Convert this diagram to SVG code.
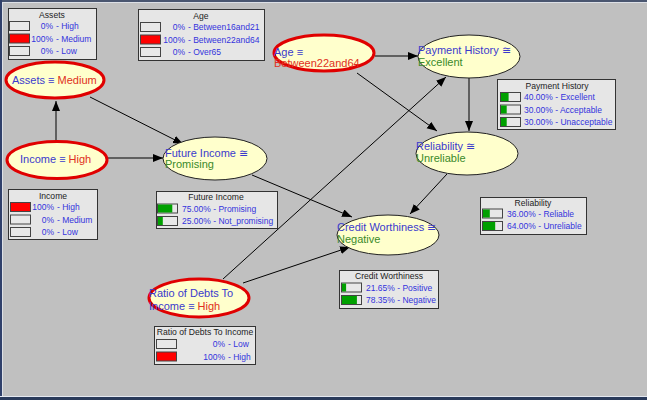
<svg xmlns="http://www.w3.org/2000/svg" width="647" height="400" viewBox="0 0 647 400">
<defs>
<marker id="arr" markerUnits="userSpaceOnUse" markerWidth="11" markerHeight="9" refX="10" refY="4" orient="auto">
<path d="M0,0 L10,4 L0,8 z" fill="#000"/>
</marker>
<style>
.bg{fill:#c0c0c0}
.box{fill:#e6e6e6;stroke:#333;stroke-width:1}
.bar{fill:#e8e8e8;stroke:#444;stroke-width:1}
.red{fill:#ff0000}
.grn{fill:#00a000}
.ttl{font-family:"Liberation Sans",Arial,sans-serif;font-size:8.6px;fill:#222;text-anchor:middle}
.row{font-family:"Liberation Sans",Arial,sans-serif;font-size:8.5px;fill:#3333dd}
.end{text-anchor:end}
.node{fill:#ffffcc;stroke:#222;stroke-width:1}
.ev{fill:#ffffcc;stroke:#e00000;stroke-width:3}
.lbl{font-family:"Liberation Sans",Arial,sans-serif;font-size:11px;fill:#3a3acc}
.st{fill:#3a8a2a}
.sr{fill:#e03020}
.edge{stroke:#000;stroke-width:1;fill:none;marker-end:url(#arr)}
</style>
</defs>
<rect class="bg" x="0" y="0" width="647" height="400"/>
<rect x="0" y="0" width="647" height="2" fill="#4a5670"/>
<rect x="0" y="2" width="647" height="1" fill="#dde0e6"/>
<rect x="0" y="0" width="2" height="400" fill="#30406a"/>
<rect x="2" y="2" width="1" height="395" fill="#dde0e6"/>
<rect x="0" y="396" width="647" height="1" fill="#e4e8f0"/>
<rect x="0" y="397" width="647" height="3" fill="#2a3a5a"/>

<g id="connectors">
<line class="edge" x1="56" y1="141" x2="56" y2="101"/>
<line class="edge" x1="90" y1="97" x2="183" y2="144"/>
<line class="edge" x1="108" y1="158" x2="163" y2="158"/>
<line class="edge" x1="375" y1="56" x2="418" y2="56"/>
<line class="edge" x1="357" y1="73" x2="437" y2="131"/>
<line class="edge" x1="469" y1="78" x2="469" y2="131"/>
<line class="edge" x1="223" y1="279" x2="446" y2="77"/>
<line class="edge" x1="252" y1="175" x2="352" y2="217"/>
<line class="edge" x1="447" y1="174" x2="410" y2="214"/>
<line class="edge" x1="243" y1="283" x2="350" y2="247"/>
</g>

<g id="assets">
<rect class="box" x="8.5" y="8.5" width="88" height="51"/>
<text class="ttl" x="52" y="18">Assets</text>
<rect class="bar" x="9.5" y="21.5" width="20" height="9"/>
<rect class="bar red" x="9.5" y="34" width="20" height="9"/>
<rect class="bar" x="9.5" y="46.5" width="20" height="9"/>
<text class="row end" x="53" y="29">0%</text><text class="row" x="56" y="29">- High</text>
<text class="row end" x="53" y="41.5">100%</text><text class="row" x="56" y="41.5">- Medium</text>
<text class="row end" x="53" y="54">0%</text><text class="row" x="56" y="54">- Low</text>
<ellipse class="ev" cx="55" cy="80" rx="49" ry="18"/>
<text class="lbl" x="12" y="84">Assets ≡ <tspan class="sr">Medium</tspan></text>
</g>

<g id="age">
<rect class="box" x="138.5" y="9.5" width="126" height="51"/>
<text class="ttl" x="201" y="19">Age</text>
<rect class="bar" x="140.5" y="22.5" width="20" height="9"/>
<rect class="bar red" x="140.5" y="35" width="20" height="9"/>
<rect class="bar" x="140.5" y="47.5" width="20" height="9"/>
<text class="row end" x="185" y="30">0%</text><text class="row" x="188" y="30">- Between16and21</text>
<text class="row end" x="185" y="42.5">100%</text><text class="row" x="188" y="42.5">- Between22and64</text>
<text class="row end" x="185" y="55">0%</text><text class="row" x="188" y="55">- Over65</text>
<ellipse class="ev" cx="324" cy="53" rx="50" ry="18"/>
<text class="lbl" x="274" y="56">Age ≡</text>
<text class="lbl sr" x="274" y="67">Between22and64</text>
</g>

<g id="payment-history">
<rect class="box" x="497.5" y="79.5" width="118" height="50"/>
<text class="ttl" x="557" y="88.5">Payment History</text>
<rect class="bar" x="500.5" y="92.5" width="20" height="9"/>
<rect class="grn" x="501" y="93" width="7.6" height="8"/>
<rect class="bar" x="500.5" y="105" width="20" height="9"/>
<rect class="grn" x="501" y="105.5" width="5.7" height="8"/>
<rect class="bar" x="500.5" y="117.5" width="20" height="9"/>
<rect class="grn" x="501" y="118" width="5.7" height="8"/>
<text class="row" x="524" y="100">40.00% - Excellent</text>
<text class="row" x="524" y="112.5">30.00% - Acceptable</text>
<text class="row" x="524" y="125">30.00% - Unacceptable</text>
<ellipse class="node" cx="469" cy="56.5" rx="51" ry="21.5"/>
<text class="lbl" x="418" y="54">Payment History ≅</text>
<text class="lbl st" x="418" y="66">Excellent</text>
</g>

<g id="income">
<rect class="box" x="8.5" y="189.5" width="89" height="50"/>
<text class="ttl" x="53" y="198.5">Income</text>
<rect class="bar red" x="10.5" y="202.5" width="20" height="9"/>
<rect class="bar" x="10.5" y="215" width="20" height="9"/>
<rect class="bar" x="10.5" y="227.5" width="20" height="9"/>
<text class="row end" x="54" y="210">100%</text><text class="row" x="57" y="210">- High</text>
<text class="row end" x="54" y="222.5">0%</text><text class="row" x="57" y="222.5">- Medium</text>
<text class="row end" x="54" y="235">0%</text><text class="row" x="57" y="235">- Low</text>
<ellipse class="ev" cx="57" cy="160" rx="50" ry="18.5"/>
<text class="lbl" x="20" y="163">Income ≡ <tspan class="sr">High</tspan></text>
</g>

<g id="future-income">
<rect class="box" x="156.5" y="191.5" width="121" height="37"/>
<text class="ttl" x="216" y="200">Future Income</text>
<rect class="bar" x="157.5" y="204" width="20" height="9"/>
<rect class="grn" x="158" y="204.5" width="14.3" height="8"/>
<rect class="bar" x="157.5" y="216.5" width="20" height="9"/>
<rect class="grn" x="158" y="217" width="4.8" height="8"/>
<text class="row" x="182" y="211.5">75.00% - Promising</text>
<text class="row" x="182" y="224">25.00% - Not_promising</text>
<ellipse class="node" cx="215" cy="158.5" rx="52" ry="21.5"/>
<text class="lbl" x="165" y="157">Future Income ≅</text>
<text class="lbl st" x="165" y="168">Promising</text>
</g>

<g id="reliability">
<rect class="box" x="480.5" y="197.5" width="106" height="37"/>
<text class="ttl" x="533" y="206">Reliability</text>
<rect class="bar" x="482.5" y="209" width="20" height="9"/>
<rect class="grn" x="483" y="209.5" width="6.8" height="8"/>
<rect class="bar" x="482.5" y="221.5" width="20" height="9"/>
<rect class="grn" x="483" y="222" width="12.2" height="8"/>
<text class="row" x="507" y="216.5">36.00% - Reliable</text>
<text class="row" x="507" y="229">64.00% - Unreliable</text>
<ellipse class="node" cx="467" cy="153.5" rx="51" ry="21.5"/>
<text class="lbl" x="416" y="150">Reliability ≅</text>
<text class="lbl st" x="416" y="162">Unreliable</text>
</g>

<g id="credit-worthiness">
<rect class="box" x="339.5" y="270.5" width="99" height="38"/>
<text class="ttl" x="389" y="279">Credit Worthiness</text>
<rect class="bar" x="341.5" y="283" width="20" height="9"/>
<rect class="grn" x="342" y="283.5" width="4.1" height="8"/>
<rect class="bar" x="341.5" y="295.5" width="20" height="9"/>
<rect class="grn" x="342" y="296" width="14.9" height="8"/>
<text class="row" x="366" y="290.5">21.65% - Positive</text>
<text class="row" x="366" y="303">78.35% - Negative</text>
<ellipse class="node" cx="388" cy="235" rx="51" ry="20"/>
<text class="lbl" x="337" y="231">Credit Worthiness ≅</text>
<text class="lbl st" x="337" y="243">Negative</text>
</g>

<g id="ratio-of-debts-to-income">
<rect class="box" x="154.5" y="326.5" width="101" height="38"/>
<text class="ttl" x="205" y="335">Ratio of Debts To Income</text>
<rect class="bar" x="156.5" y="339.5" width="20" height="9"/>
<rect class="bar red" x="156.5" y="352" width="20" height="9"/>
<text class="row end" x="225" y="347">0%</text><text class="row" x="228" y="347">- Low</text>
<text class="row end" x="225" y="359.5">100%</text><text class="row" x="228" y="359.5">- High</text>
<ellipse class="ev" cx="199" cy="298" rx="50" ry="19"/>
<text class="lbl" x="149" y="297">Ratio of Debts To</text>
<text class="lbl" x="149" y="310">Income ≡ <tspan class="sr">High</tspan></text>
</g>
</svg>
